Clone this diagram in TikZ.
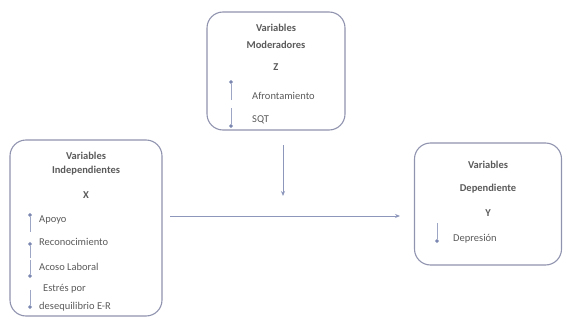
\documentclass[tikz,border=0pt]{standalone}
\usepackage{fontspec}
\setmainfont{Carlito}
\usetikzlibrary{arrows.meta}
\definecolor{boxline}{HTML}{9094AE}
\definecolor{arrowblue}{HTML}{5C6A9E}
\definecolor{txtgray}{HTML}{5A5A5A}
\tikzset{x=1pt,y=-1pt,
    varbox/.style={draw=boxline,line width=1.1pt,rounded corners=16pt},
    title/.style={font=\fontsize{10.5}{12}\selectfont\bfseries,text=txtgray,inner sep=0pt},
    item/.style={font=\fontsize{10.5}{12}\selectfont,text=txtgray,anchor=west,inner sep=0pt},
    flow/.style={draw=arrowblue!70,line width=0.9pt,-{Stealth[length=5pt,width=4pt]}},
    tick/.style={draw=arrowblue!60,line width=0.8pt,-{Circle[length=4pt,fill=arrowblue]}},
    }

\begin{document}
\begin{tikzpicture}
\useasboundingbox (0,0) rectangle (567,321);
% boxes
\node[varbox,minimum width=138pt,minimum height=118pt] (mod) at (276,71) {};
\node[varbox,minimum width=152pt,minimum height=176pt] (indep) at (86,228) {};
\node[varbox,minimum width=147pt,minimum height=122pt] (dep) at (488,204) {};

% moderadores
\node[title] (modA) at (276,28) {Variables};
\node[title] (modB) at (276,45) {Moderadores};
\node[title] (modC) at (276,67) {Z};
\node[item] (afr) at (252,96) {Afrontamiento};
\node[item] (sqt) at (252,120) {SQT};
\coordinate (afrS) at (231,100);
\coordinate (afrT) at (231,80);
\coordinate (sqtS) at (231,108);
\coordinate (sqtT) at (231,128);
\draw[tick] (afrS) -- (afrT);
\draw[tick] (sqtS) -- (sqtT);

% independientes
\node[title] (indA) at (86,156) {Variables};
\node[title] (indB) at (86,171) {Independientes};
\node[title] (indC) at (86,195) {X};
\node[item] (apo) at (39,220) {Apoyo};
\node[item] (rec) at (39,242) {Reconocimiento};
\node[item] (aco) at (39,267) {Acoso Laboral};
\node[item] (est) at (43,289) {Estrés por};
\node[item] (deq) at (39,307) {desequilibrio E-R};
\coordinate (apoS) at (30,232);
\coordinate (apoT) at (30,213);
\coordinate (recS) at (30,258);
\coordinate (recT) at (30,242);
\coordinate (acoS) at (30,260);
\coordinate (acoT) at (30,278);
\coordinate (estS) at (30,290);
\coordinate (estT) at (30,309);
\draw[tick] (apoS) -- (apoT);
\draw[tick] (recS) -- (recT);
\draw[tick] (acoS) -- (acoT);
\draw[tick] (estS) -- (estT);

% dependiente
\node[title] (depA) at (488,165) {Variables};
\node[title] (depB) at (488,189) {Dependiente};
\node[title] (depC) at (488,213) {Y};
\node[item] (dpr) at (453,239) {Depresión};
\coordinate (dprS) at (437,223);
\coordinate (dprT) at (437,243);
\draw[tick] (dprS) -- (dprT);

% relaciones
\coordinate (zS) at (283,145);
\coordinate (zT) at (283,196);
\coordinate (xS) at (170,216);
\coordinate (yT) at (400,216);
\draw[flow] (zS) -- (zT);
\draw[flow] (xS) -- (yT);
\end{tikzpicture}
\end{document}
